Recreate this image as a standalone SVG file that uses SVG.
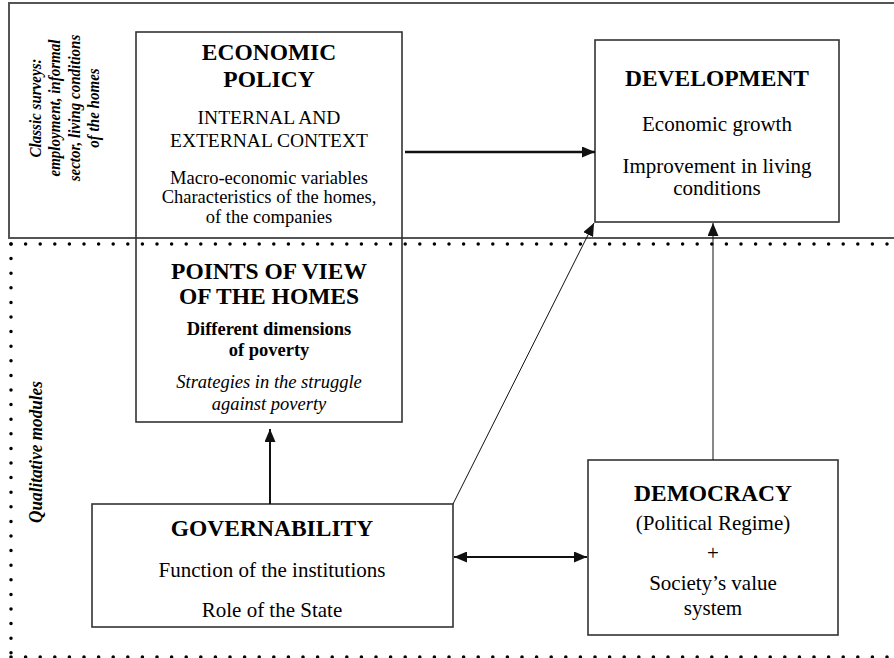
<svg xmlns="http://www.w3.org/2000/svg" width="894" height="658" viewBox="0 0 894 658">
<defs>
<style>
.box{fill:none;stroke:#333;stroke-width:1.6}
.frame{fill:none;stroke:#555;stroke-width:2}
.dots{fill:none;stroke:#000;stroke-width:3.5;stroke-linecap:round;stroke-dasharray:0 14.6}
text{font-family:"Liberation Serif","Times New Roman",serif;fill:#000;text-anchor:middle}
.t{font-weight:bold;font-size:23.5px}
.r{font-size:21px}
.s{font-size:18.5px}
.side{font-weight:bold;font-style:italic;font-size:17.5px}
.arr{stroke:#111;fill:none}
</style>
<marker id="ah" viewBox="0 0 13 11" refX="13" refY="5.5" markerWidth="13" markerHeight="11" markerUnits="userSpaceOnUse" orient="auto-start-reverse">
<path d="M0,0 L13,5.5 L0,11 z" fill="#111"/>
</marker>
</defs>
<g id="zones">
<path class="frame" d="M894,3 H9 V238 H894"/>
<line class="dots" x1="11" y1="244" x2="894" y2="244"/>
<line class="dots" x1="11" y1="244" x2="11" y2="657"/>
<line class="dots" x1="11" y1="657" x2="894" y2="657"/>
<text class="side" transform="translate(0,108) rotate(-90) scale(0.86,1)"><tspan x="0" y="41">Classic surveys:</tspan><tspan x="0" y="60.5">employment, informal</tspan><tspan x="0" y="80">sector, living conditions</tspan><tspan x="0" y="99.5">of the homes</tspan></text>
<text class="side" style="font-size:18.5px" transform="translate(42,452) rotate(-90) scale(0.93,1)" x="0" y="0">Qualitative modules</text>
</g>
<g id="economic-policy">
<rect class="box" x="136" y="32" width="266" height="390"/>
<text class="t" x="269" y="60">ECONOMIC</text>
<text class="t" x="269" y="87">POLICY</text>
<text style="font-size:19.5px" x="269" y="124">INTERNAL AND</text>
<text style="font-size:19.5px" x="269" y="147">EXTERNAL CONTEXT</text>
<text class="s" x="269" y="184">Macro-economic variables</text>
<text class="s" x="269" y="203">Characteristics of the homes,</text>
<text class="s" x="269" y="223">of the companies</text>
</g>
<g id="points-of-view">
<text class="t" x="269" y="279">POINTS OF VIEW</text>
<text class="t" x="269" y="304">OF THE HOMES</text>
<text class="s" style="font-weight:bold" x="269" y="335">Different dimensions</text>
<text class="s" style="font-weight:bold" x="269" y="356">of poverty</text>
<text class="s" style="font-style:italic" x="269" y="388">Strategies in the struggle</text>
<text class="s" style="font-style:italic" x="269" y="410">against poverty</text>
</g>
<g id="development">
<rect class="box" x="595" y="40" width="244" height="182"/>
<text class="t" x="717" y="86">DEVELOPMENT</text>
<text class="r" x="717" y="131">Economic growth</text>
<text class="r" x="717" y="173">Improvement in living</text>
<text class="r" x="717" y="195">conditions</text>
</g>
<g id="governability">
<rect class="box" x="92" y="504" width="361" height="123"/>
<text class="t" x="272" y="536">GOVERNABILITY</text>
<text class="r" x="272" y="577">Function of the institutions</text>
<text class="r" x="272" y="617">Role of the State</text>
</g>
<g id="democracy">
<rect class="box" x="588" y="460" width="250" height="175"/>
<text class="t" x="713" y="501">DEMOCRACY</text>
<text class="r" x="713" y="530">(Political Regime)</text>
<text class="r" x="713" y="560">+</text>
<text class="r" x="713" y="590">Society’s value</text>
<text class="r" x="713" y="615">system</text>
</g>
<g id="connectors">
<line class="arr" stroke-width="2.5" x1="405" y1="152" x2="595" y2="152" marker-end="url(#ah)"/>
<line class="arr" stroke-width="2" x1="270" y1="504" x2="270" y2="429" marker-end="url(#ah)"/>
<line class="arr" stroke-width="2" x1="454" y1="557" x2="587" y2="557" marker-start="url(#ah)" marker-end="url(#ah)"/>
<line class="arr" stroke-width="1" x1="453" y1="504" x2="594" y2="223" marker-end="url(#ah)"/>
<line class="arr" stroke-width="1" x1="713" y1="460" x2="713" y2="223" marker-end="url(#ah)"/>
</g>
</svg>
